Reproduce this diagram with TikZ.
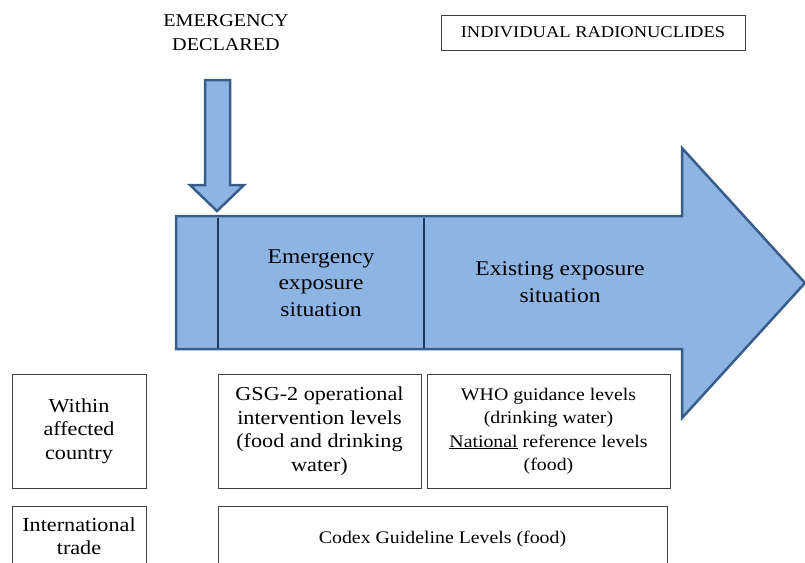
\documentclass[tikz,border=0pt]{standalone}
\usepackage{fontspec}
\setmainfont[FakeStretch=1.12]{Liberation Serif}
\usetikzlibrary{positioning}
\definecolor{arrowfill}{RGB}{142,180,227}
\definecolor{arrowline}{RGB}{56,93,138}
\definecolor{divline}{RGB}{31,56,93}

\begin{document}
\begin{tikzpicture}[x=1pt,y=-1pt]
\tikzstyle{box}=[draw=black!75, line width=1pt, align=center, inner sep=0pt,
	outer sep=0pt, font=\fontsize{19.8}{23.5}\selectfont
]
\tikzstyle{smallbox}=[box, font=\fontsize{17.7}{23.5}\selectfont]
\tikzstyle{phase}=[align=center, font=\fontsize{21}{26.5}\selectfont]
\tikzstyle{bigarrow}=[fill=arrowfill, draw=arrowline, line width=2.5pt]
\useasboundingbox (0,0) rectangle (805,562);
\clip (0,0) rectangle (805,562);

% time arrow
\draw[bigarrow] (176,216) -- (682,216) -- (682,148) -- (805,283)
	-- (682,418) -- (682,349) -- (176,349) -- cycle;
\draw[divline, line width=1.8pt] (218,218) -- (218,348);
\draw[divline, line width=1.8pt] (424,218) -- (424,348);
\node[phase] (emerg) at (321,283) {Emergency\\exposure\\situation};
\node[phase] (exist) at (560,282) {Existing exposure\\situation};

% declared arrow
\draw[bigarrow] (205,80) -- (230,80) -- (230,185) -- (244,185)
	-- (217,211) -- (190,185) -- (205,185) -- cycle;
\node[align=center, font=\fontsize{18}{24}\selectfont] (declared) at (226,33) {EMERGENCY\\DECLARED};
\node[box, minimum width=304, minimum height=35,
	font=\fontsize{16.5}{20}\selectfont] (radio) at (593,32.5) {INDIVIDUAL RADIONUCLIDES};

% level boxes
\node[box, anchor=north west, minimum width=134, minimum height=114] (within) at (12,374)
	{Within\\affected\\country};
\node[box, below=18pt of within, minimum width=134, minimum height=60] (trade)
	{International\\trade};
\node[box, anchor=north west, minimum width=203, minimum height=114] (gsg) at (218,374)
	{GSG-2 operational\\intervention levels\\(food and drinking\\water)};
\node[smallbox, right=6pt of gsg, minimum width=243, minimum height=114] (who)
	{WHO guidance levels\\(drinking water)\\\underline{National} reference levels\\(food)};
\node[smallbox, anchor=north west, minimum width=449, minimum height=66] (codex) at (218,506)
	{Codex Guideline Levels (food)};

\end{tikzpicture}
\end{document}
